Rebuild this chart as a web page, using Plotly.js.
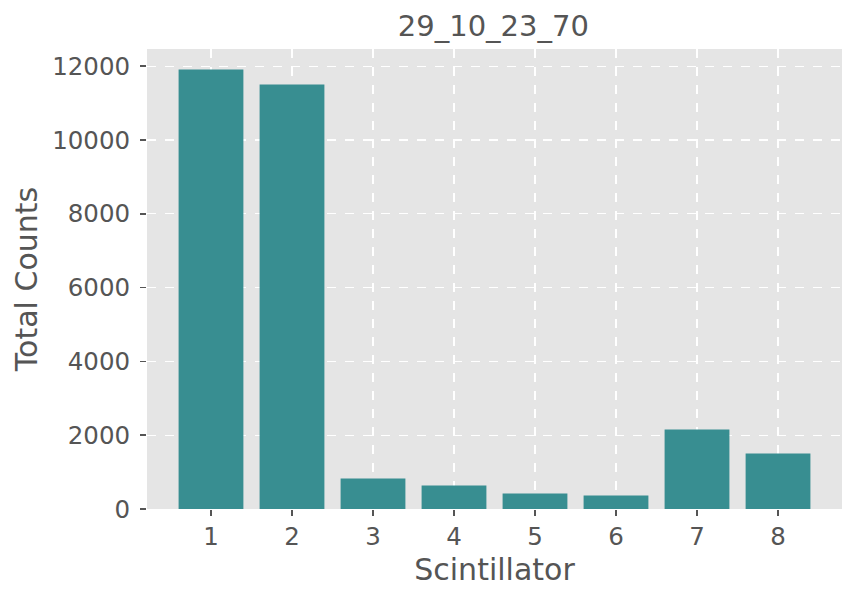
<!DOCTYPE html>
<html>
<head>
<meta charset="utf-8">
<script src="https://cdn.plot.ly/plotly-3.0.1.min.js"></script>
<style>html,body{margin:0;padding:0;background:#fff;}#chart{width:858px;height:601px;}</style>
</head>
<body>
<div id="chart"></div>
<script>
const categories = [1, 2, 3, 4, 5, 6, 7, 8];
const totalCounts = [11910, 11505, 826, 636, 420, 365, 2152, 1502];
const yTicks = [0, 2000, 4000, 6000, 8000, 10000, 12000];
const chartTitle = "29_10_23_70";

const trace = {
  type: 'bar',
  x: categories,
  y: totalCounts,
  width: 0.8,
  marker: {color: '#388e91', line: {width: 0}},
  hoverinfo: 'x+y'
};

const layout = {
  width: 858, height: 601,
  margin: {l: 147, r: 16, t: 49, b: 91.5, pad: 0},
  paper_bgcolor: '#ffffff',
  plot_bgcolor: '#e5e5e5',
  font: {family: 'DejaVu Sans', color: '#555555', size: 25},
  showlegend: false,
  title: {text: chartTitle, font: {size: 29, color: '#555555'}, x: 0.575, xanchor: 'center', y: 0.957, yanchor: 'middle'},
  xaxis: {
    range: [0.21, 8.79],
    tickvals: categories,
    ticktext: categories.map(String),
    ticks: 'outside', ticklen: 6, tickwidth: 1.5, tickcolor: '#555555',
    showgrid: true, gridcolor: '#ffffff', gridwidth: 1.3, griddash: 'dash',
    zeroline: false, showline: false,
    tickfont: {size: 24.5, color: '#555555'},
    title: {text: 'Scintillator', font: {size: 30, color: '#555555'}, standoff: 8},
    automargin: false
  },
  yaxis: {
    range: [0, 12466],
    tickvals: yTicks,
    ticktext: yTicks.map(String),
    ticks: 'outside', ticklen: 6, tickwidth: 1.5, tickcolor: '#555555',
    ticklabelstandoff: 5,
    showgrid: true, gridcolor: '#ffffff', gridwidth: 1.3, griddash: 'dash',
    zeroline: false, showline: false,
    tickfont: {size: 24.5, color: '#555555'},
    title: {text: 'Total Counts', font: {size: 30, color: '#555555'}, standoff: 5},
    automargin: false
  },
  bargap: 0.2
};

Plotly.newPlot('chart', [trace], layout, {displayModeBar: false, staticPlot: true});
</script>
</body>
</html>
